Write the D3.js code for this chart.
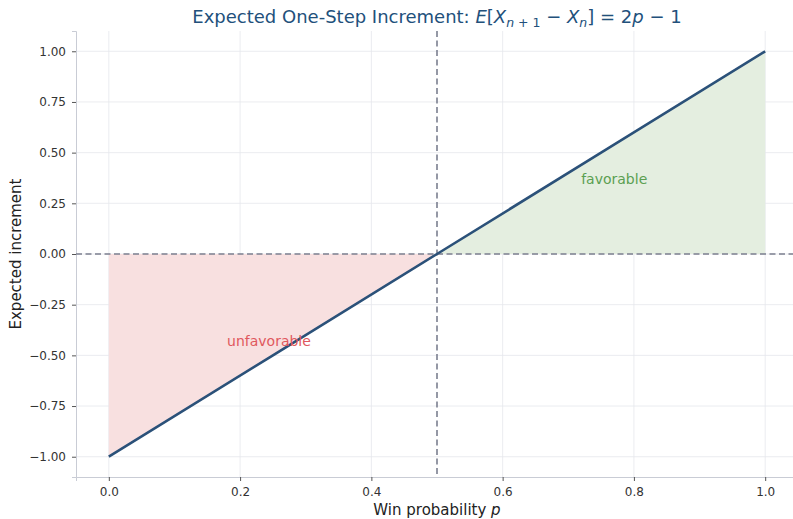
<!DOCTYPE html>
<html><head><meta charset="utf-8">
<script src="https://cdn.jsdelivr.net/npm/d3@7"></script>
<style>body{margin:0;background:#fff}text{font-family:"DejaVu Sans",sans-serif}</style>
</head><body><svg id="c" width="793" height="519"></svg>
<script>
const pValues = [0, 0.25, 0.5, 0.75, 1];
const increments = [-1, -0.5, 0, 0.5, 1];
const xTicks = [0, 0.2, 0.4, 0.6, 0.8, 1.0];
const yTicks = [-1, -0.75, -0.5, -0.25, 0, 0.25, 0.5, 0.75, 1];
const labels = [{text:"favorable", p:0.77, v:0.37, color:"#5b9f52"},{text:"unfavorable", p:0.244, v:-0.43, color:"#e0585d"}];

const svg = d3.select("#c");
const x = d3.scaleLinear().domain([-0.05, 1.05]).range([76, 798]);
const y = d3.scaleLinear().domain([-1.1, 1.1]).range([477, 31]);
const data = pValues.map((p,i)=>({p, v:increments[i]}));

// grid
svg.append("g").selectAll("line").data(xTicks).join("line")
  .attr("x1",d=>x(d)).attr("x2",d=>x(d)).attr("y1",y(-1.1)).attr("y2",y(1.1))
  .attr("stroke","#e6e7ec").attr("stroke-width",0.8);
svg.append("g").selectAll("line").data(yTicks).join("line")
  .attr("y1",d=>y(d)).attr("y2",d=>y(d)).attr("x1",x(-0.05)).attr("x2",x(1.05))
  .attr("stroke","#e6e7ec").attr("stroke-width",0.8);

// fills
const area = d3.area().x(d=>x(d.p)).y0(y(0)).y1(d=>y(d.v));
svg.append("path").datum(data.filter(d=>d.p<=0.5)).attr("d",area).attr("fill","#f8e0e0");
svg.append("path").datum(data.filter(d=>d.p>=0.5)).attr("d",area).attr("fill","#e4eee0");

// axes
const xAxis = svg.append("g").attr("transform",`translate(0,${y(-1.1)})`)
  .call(d3.axisBottom(x).tickValues(xTicks).tickFormat(d3.format(".1f")).tickSize(4).tickPadding(6));
const yAxis = svg.append("g").attr("transform",`translate(${x(-0.05)},0)`)
  .call(d3.axisLeft(y).tickValues(yTicks).tickFormat(d3.format(".2f")).tickSize(4).tickPadding(6));
[xAxis,yAxis].forEach(g=>{
  g.select(".domain").attr("stroke","#c9ccd5");
  g.selectAll(".tick line").attr("stroke","#555");
  g.selectAll(".tick text").attr("fill","#333").style("font-size","12px").style("font-family","DejaVu Sans");
});

// reference lines
svg.append("line").attr("x1",x(-0.05)).attr("x2",x(1.05)).attr("y1",y(0)).attr("y2",y(0))
  .attr("stroke","#7b7f8f").attr("stroke-width",1.6).attr("stroke-dasharray","6,3.5");
svg.append("line").attr("x1",x(0.5)).attr("x2",x(0.5)).attr("y1",y(1.1)).attr("y2",y(-1.1))
  .attr("stroke","#7b7f8f").attr("stroke-width",1.6).attr("stroke-dasharray","6,3.5");

// main line
svg.append("path").datum(data).attr("d",d3.line().x(d=>x(d.p)).y(d=>y(d.v)))
  .attr("fill","none").attr("stroke","#2b5179").attr("stroke-width",2.6);

// region labels
svg.append("g").selectAll("text").data(labels).join("text")
  .attr("x",d=>x(d.p)).attr("y",d=>y(d.v)).attr("dy","0.35em").attr("text-anchor","middle")
  .attr("fill",d=>d.color).style("font-size","14px").text(d=>d.text);

// axis labels
svg.append("text").attr("x",437).attr("y",515).attr("text-anchor","middle").attr("fill","#222")
  .style("font-size","15px").html('Win probability <tspan font-style="italic">p</tspan>');
svg.append("text").attr("transform","translate(21,254) rotate(-90)").attr("text-anchor","middle").attr("fill","#222")
  .style("font-size","15px").text("Expected increment");

// title
const t = svg.append("text").attr("x",437).attr("y",23).attr("text-anchor","middle").attr("fill","#22507b")
  .style("font-size","18px");
t.append("tspan").text("Expected One-Step Increment: ");
t.append("tspan").attr("font-style","italic").text("E");
t.append("tspan").text("[");
t.append("tspan").attr("font-style","italic").text("X");
t.append("tspan").attr("font-size","12.5px").attr("dy","4").html('<tspan font-style="italic">n</tspan> + 1');
t.append("tspan").attr("dy","-4").text(" − ");
t.append("tspan").attr("font-style","italic").text("X");
t.append("tspan").attr("font-size","12.5px").attr("font-style","italic").attr("dy","4").text("n");
t.append("tspan").attr("dy","-4").text("] = 2");
t.append("tspan").attr("font-style","italic").text("p");
t.append("tspan").text(" − 1");
</script></body></html>
